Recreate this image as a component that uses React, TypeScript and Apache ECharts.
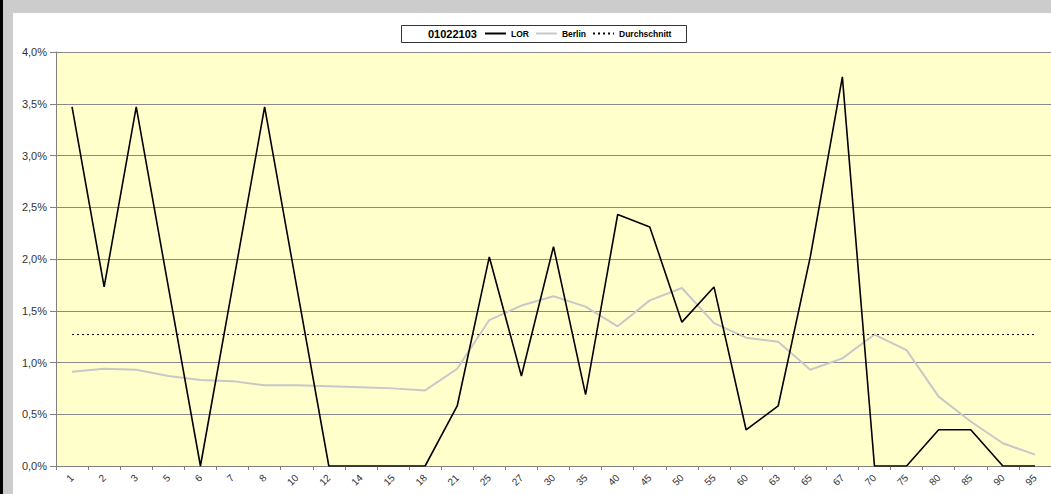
import React, { useEffect, useRef } from "react";
import * as echarts from "echarts";

const categories = ["1", "2", "3", "5", "6", "7", "8", "10", "12", "14", "15", "18", "21", "25", "27", "30", "35", "40", "45", "50", "55", "60", "63", "65", "67", "70", "75", "80", "85", "90", "95"];
const lorValues = [3.47, 1.73, 3.47, 1.73, 0, 1.73, 3.47, 1.73, 0, 0, 0, 0, 0.58, 2.02, 0.87, 2.12, 0.69, 2.43, 2.31, 1.39, 1.73, 0.35, 0.58, 2.02, 3.76, 0, 0, 0.35, 0.35, 0, 0];
const berlinValues = [0.91, 0.94, 0.93, 0.87, 0.83, 0.82, 0.78, 0.78, 0.77, 0.76, 0.75, 0.73, 0.94, 1.41, 1.55, 1.64, 1.54, 1.35, 1.6, 1.72, 1.38, 1.24, 1.2, 0.93, 1.04, 1.27, 1.12, 0.67, 0.43, 0.22, 0.11];
const averageValues = [1.27, 1.27, 1.27, 1.27, 1.27, 1.27, 1.27, 1.27, 1.27, 1.27, 1.27, 1.27, 1.27, 1.27, 1.27, 1.27, 1.27, 1.27, 1.27, 1.27, 1.27, 1.27, 1.27, 1.27, 1.27, 1.27, 1.27, 1.27, 1.27, 1.27, 1.27];
const seriesNames = ["LOR", "Berlin", "Durchschnitt"];
const chartTitle = "01022103";
const yTicks = { min: 0, max: 4, interval: 0.5 };

const FONT = 'Arial, "Liberation Sans", sans-serif';

export default function App() {
  const ref = useRef<HTMLDivElement>(null);
  useEffect(() => {
    if (!ref.current) return;
    const chart = echarts.init(ref.current, null, { renderer: "svg" });
    chart.setOption({
      animation: false,
      backgroundColor: "#ffffff",
      grid: {
        left: 43,
        top: 39,
        width: 1004,
        height: 414,
        show: true,
        backgroundColor: "#FFFFCC",
        borderWidth: 0,
      },
      graphic: [
        {
          type: "rect",
          z: 1,
          shape: { x: 388.5, y: 12.5, width: 285, height: 17 },
          style: { fill: "#ffffff", stroke: "#333333", lineWidth: 1 },
        },
        {
          type: "text",
          z: 2,
          x: 415,
          y: 21,
          style: {
            text: chartTitle,
            font: `bold 11px ${FONT}`,
            fill: "#000000",
            verticalAlign: "middle",
          },
        },
      ],
      legend: {
        z: 10,
        left: 471,
        top: 16,
        padding: 0,
        itemWidth: 21,
        itemHeight: 10,
        itemGap: 6,
        data: seriesNames,
        itemStyle: { opacity: 0, borderWidth: 0 },
        textStyle: { fontFamily: FONT, fontSize: 8.5, fontWeight: "bold", color: "#000" },
      },
      xAxis: {
        type: "category",
        data: categories,
        boundaryGap: true,
        axisLine: { lineStyle: { color: "#808080", width: 1 } },
        axisTick: { show: true, length: 4, lineStyle: { color: "#808080" } },
        axisLabel: {
          interval: 0,
          rotate: 45,
          margin: 10,
          fontFamily: FONT,
          fontSize: 10,
          color: "#333",
        },
        splitLine: { show: false },
      },
      yAxis: {
        type: "value",
        min: yTicks.min,
        max: yTicks.max,
        interval: yTicks.interval,
        axisLine: { show: true, lineStyle: { color: "#808080", width: 1 } },
        axisTick: { show: true, length: 6, lineStyle: { color: "#808080" } },
        axisLabel: {
          margin: 9,
          fontFamily: FONT,
          fontSize: 11,
          color: "#333",
          formatter: (v: number) => v.toFixed(1).replace(".", ",") + "%",
        },
        splitLine: { show: true, lineStyle: { color: "#8a8a8a", width: 1 } },
      },
      series: [
        {
          name: seriesNames[0],
          type: "line",
          data: lorValues,
          symbol: "none",
          z: 5,
          lineStyle: { color: "#000000", width: 1.6 },
          itemStyle: { color: "#000000" },
        },
        {
          name: seriesNames[1],
          type: "line",
          data: berlinValues,
          symbol: "none",
          z: 3,
          lineStyle: { color: "#C8C8C8", width: 2 },
          itemStyle: { color: "#C8C8C8" },
        },
        {
          name: seriesNames[2],
          type: "line",
          data: averageValues,
          symbol: "none",
          z: 4,
          lineStyle: { color: "#000000", width: 1, type: [2, 3] },
          itemStyle: { color: "#000000" },
        },
      ],
    });
    return () => chart.dispose();
  }, []);

  return (
    <div
      style={{
        position: "absolute",
        left: 0,
        top: 0,
        width: 1051,
        height: 494,
        overflow: "hidden",
        background: "#cccccc",
      }}
    >
      <div style={{ position: "absolute", left: 0, top: 0, width: 3, height: 494, background: "#000" }} />
      <div
        ref={ref}
        style={{ position: "absolute", left: 13, top: 13, width: 1038, height: 481 }}
      />
    </div>
  );
}
